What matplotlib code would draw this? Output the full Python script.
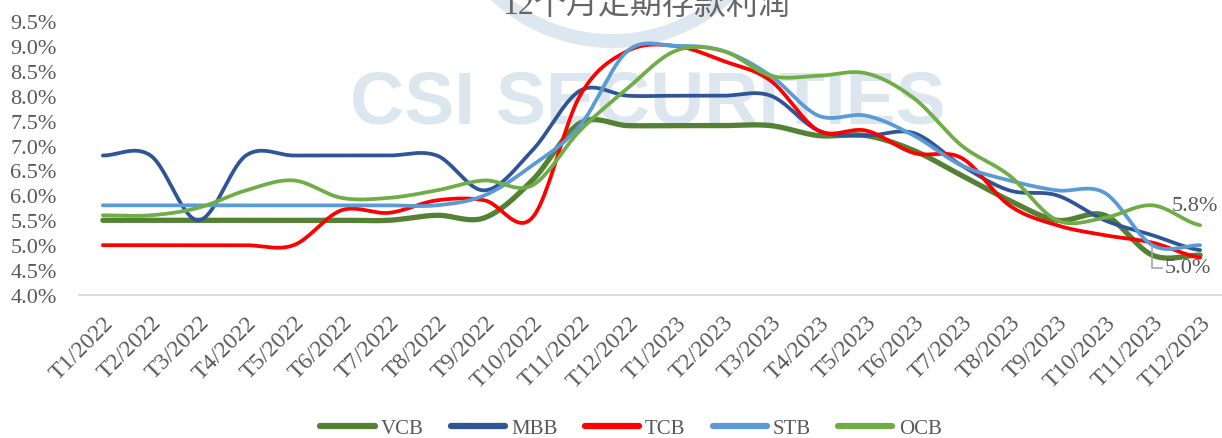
import numpy as np
import matplotlib
matplotlib.use("Agg")
import matplotlib.pyplot as plt
from matplotlib.patches import Arc

months = ["T1/2022", "T2/2022", "T3/2022", "T4/2022", "T5/2022", "T6/2022",
          "T7/2022", "T8/2022", "T9/2022", "T10/2022", "T11/2022", "T12/2022",
          "T1/2023", "T2/2023", "T3/2023", "T4/2023", "T5/2023", "T6/2023",
          "T7/2023", "T8/2023", "T9/2023", "T10/2023", "T11/2023", "T12/2023"]

vcb = [5.5, 5.5, 5.5, 5.5, 5.5, 5.5, 5.5, 5.6, 5.55, 6.3, 7.45, 7.4,
       7.4, 7.4, 7.4, 7.2, 7.2, 6.9, 6.4, 5.9, 5.5, 5.6, 4.8, 4.8]
mbb = [6.8, 6.8, 5.5, 6.8, 6.8, 6.8, 6.8, 6.8, 6.1, 6.9, 8.1, 8.0,
       8.0, 8.0, 8.0, 7.3, 7.2, 7.25, 6.6, 6.1, 6.0, 5.5, 5.2, 4.9]
tcb = [5.0, 5.0, 5.0, 5.0, 5.0, 5.7, 5.65, 5.9, 5.9, 5.55, 8.0, 8.9,
       9.0, 8.7, 8.3, 7.3, 7.3, 6.85, 6.75, 5.8, 5.4, 5.2, 5.05, 4.75]
stb = [5.8, 5.8, 5.8, 5.8, 5.8, 5.8, 5.8, 5.8, 6.0, 6.6, 7.4, 8.9,
       9.0, 8.9, 8.4, 7.6, 7.6, 7.2, 6.6, 6.3, 6.1, 6.05, 5.0, 5.0]
ocb = [5.6, 5.6, 5.75, 6.1, 6.3, 5.95, 5.95, 6.1, 6.3, 6.2, 7.3, 8.15,
       8.9, 8.9, 8.4, 8.4, 8.45, 7.95, 7.0, 6.4, 5.5, 5.55, 5.8, 5.4]

series_names = ["VCB", "MBB", "TCB", "STB", "OCB"]
series_values = [vcb, mbb, tcb, stb, ocb]
series_colors = ["#548235", "#2F5597", "#FF0000", "#5B9BD5", "#70AD47"]
series_widths = [3.8, 2.7, 2.7, 2.7, 2.7]

yticks = [4.0, 4.5, 5.0, 5.5, 6.0, 6.5, 7.0, 7.5, 8.0, 8.5, 9.0, 9.5]
title = "12个月定期存款利润"


def catmull_rom(y, n=24):
    y = np.asarray(y, dtype=float)
    xs, ys = [], []
    m = len(y)
    for i in range(m - 1):
        p0 = y[i - 1] if i > 0 else y[i]
        p1 = y[i]
        p2 = y[i + 1]
        p3 = y[i + 2] if i + 2 < m else y[i + 1]
        t = np.linspace(0, 1, n, endpoint=(i == m - 2))
        yy = 0.5 * ((2 * p1) + (-p0 + p2) * t + (2 * p0 - 5 * p1 + 4 * p2 - p3) * t ** 2
                    + (-p0 + 3 * p1 - 3 * p2 + p3) * t ** 3)
        xs.append(i + t)
        ys.append(yy)
    return np.concatenate(xs), np.concatenate(ys)


W, H = 1222, 439
fig = plt.figure(figsize=(W / 100, H / 100), dpi=100)

# watermark background
bg = fig.add_axes([0, 0, 1, 1], zorder=0)
bg.set_xlim(0, W)
bg.set_ylim(H, 0)
bg.axis("off")
bg.add_patch(Arc((612, -128), 340, 340, theta1=0, theta2=360,
                 color="#DDE7EF", lw=10))
bg.text(648, 104, "CSI SECURITIES", ha="center", va="center",
        fontsize=54, fontweight="bold", color="#DCE6EF",
        family="Liberation Sans")

# main axes
left_px, right_px = 79, 1224
top_px, bot_px = 22, 296
ax = fig.add_axes([left_px / W, 1 - bot_px / H, (right_px - left_px) / W,
                   (bot_px - top_px) / H], zorder=1)
ax.patch.set_alpha(0)

x = np.arange(len(months))
for name, vals, col, lw in zip(series_names, series_values, series_colors, series_widths):
    sx, sy = catmull_rom(vals)
    ax.plot(sx, sy, color=col, lw=lw, solid_capstyle="round", label=name)

ax.set_xlim(-0.5, len(months) - 0.5)
ax.set_ylim(4.0, 9.5)
ax.set_yticks(yticks)
ax.set_yticklabels([f"{v:.1f}%" for v in yticks], family="Liberation Serif",
                   fontsize=16, color="#595959")
ax.set_xticks(x)
ax.set_xticklabels(months, rotation=45, ha="right", va="top",
                   rotation_mode="anchor", family="Liberation Serif",
                   fontsize=17, color="#595959")
ax.tick_params(axis="y", length=0, pad=16)
ax.tick_params(axis="x", length=0, pad=12)
for s in ["top", "right", "left"]:
    ax.spines[s].set_visible(False)
ax.spines["bottom"].set_color("#D9D9D9")
ax.spines["bottom"].set_linewidth(1.3)

# data labels
ax.text(22.4, ocb[22], "5.8%", ha="left", va="center", family="Liberation Serif",
        fontsize=16, color="#595959", transform=ax.transData)
ax.plot([22, 22, 22.2], [stb[22] - 0.04, 4.55, 4.55], color="#A6A6A6", lw=1.2)
ax.text(22.25, 4.55, "5.0%", ha="left", va="center", family="Liberation Serif",
        fontsize=16, color="#595959")

# title (partly cut off at top, as in reference)
fig.text(646 / W, 1 - 7 / H, title, ha="center", va="center",
         family=["Liberation Serif", "Noto Sans CJK SC"],
         fontsize=23, color="#666666")

leg = fig.legend(loc="center", bbox_to_anchor=(631 / W, 1 - 429 / H), ncol=5,
                 frameon=False, prop={"family": "Liberation Serif", "size": 15},
                 handlelength=2.6, columnspacing=1.3, handletextpad=0.3)
for line in leg.get_lines():
    line.set_linewidth(4.5)
for t in leg.get_texts():
    t.set_color("#595959")

fig.savefig("out.png", dpi=100)
